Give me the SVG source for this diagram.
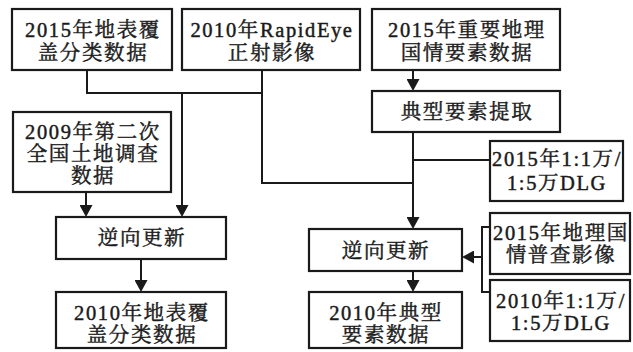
<svg xmlns="http://www.w3.org/2000/svg" width="633" height="352" viewBox="0 0 633 352">
<style>
  .box rect { fill: #ffffff; stroke: #1a1a1a; stroke-width: 2.2; }
  .box text { font-family: "Liberation Serif", "Noto Serif CJK SC", "Noto Sans CJK SC", serif; font-size: 20.5px; fill: #1a1a1a; stroke: #1a1a1a; stroke-width: 0.45; text-anchor: middle; letter-spacing: 1.6px; }
  .conn path { fill: none; stroke: #1a1a1a; stroke-width: 2; }
</style>
<defs>
  <marker id="arr" markerUnits="userSpaceOnUse" markerWidth="13" markerHeight="13" refX="10" refY="6.5" orient="auto" viewBox="0 0 13 13">
    <path d="M0,0 L12,6.5 L0,13 z" fill="#1a1a1a"/>
  </marker>
</defs>
<rect x="0" y="0" width="633" height="352" fill="#ffffff"/>
<g id="connectors" class="conn">
  <path d="M87,70 V93 H262"/>
  <path d="M262,70 V183 H413"/>
  <path d="M182,93 V215" marker-end="url(#arr)"/>
  <path d="M86,192 V215" marker-end="url(#arr)"/>
  <path d="M141,259 V290" marker-end="url(#arr)"/>
  <path d="M413,70 V89" marker-end="url(#arr)"/>
  <path d="M413,132 V227" marker-end="url(#arr)"/>
  <path d="M490,160 H413"/>
  <path d="M490,227 H482 V292 H490"/>
  <path d="M482,257 H464" marker-end="url(#arr)"/>
  <path d="M413,271 V290" marker-end="url(#arr)"/>
</g>
<g id="n2015lc" class="box">
  <rect x="12" y="9" width="160" height="61"/>
  <text x="93" y="37">2015年地表覆</text>
  <text x="93" y="60">盖分类数据</text>
</g>
<g id="nrapideye" class="box">
  <rect x="182" y="9" width="178" height="61"/>
  <text x="272" y="37">2010年RapidEye</text>
  <text x="272" y="60">正射影像</text>
</g>
<g id="n2015geo" class="box">
  <rect x="372" y="9" width="188" height="61"/>
  <text x="467" y="37">2015年重要地理</text>
  <text x="467" y="60">国情要素数据</text>
</g>
<g id="nextract" class="box">
  <rect x="372" y="91" width="188" height="41"/>
  <text x="467" y="119">典型要素提取</text>
</g>
<g id="n2009" class="box">
  <rect x="13" y="112" width="158" height="80"/>
  <text x="93" y="139">2009年第二次</text>
  <text x="93" y="161">全国土地调查</text>
  <text x="93" y="183">数据</text>
</g>
<g id="ndlg2015" class="box">
  <rect x="490" y="141" width="133" height="60"/>
  <text x="557" y="166">2015年1:1万/</text>
  <text x="557" y="190">1:5万DLG</text>
</g>
<g id="nupdateL" class="box">
  <rect x="56" y="217" width="170" height="42"/>
  <text x="142" y="245">逆向更新</text>
</g>
<g id="nupdateR" class="box">
  <rect x="309" y="229" width="153" height="42"/>
  <text x="386" y="258">逆向更新</text>
</g>
<g id="nimg2015" class="box">
  <rect x="490" y="213" width="140" height="61"/>
  <text x="561" y="240">2015年地理国</text>
  <text x="561" y="262">情普查影像</text>
</g>
<g id="ndlg2010" class="box">
  <rect x="490" y="280" width="140" height="61"/>
  <text x="561" y="308">2010年1:1万/</text>
  <text x="561" y="330">1:5万DLG</text>
</g>
<g id="nlc2010" class="box">
  <rect x="56" y="292" width="170" height="56"/>
  <text x="142" y="320">2010年地表覆</text>
  <text x="142" y="342">盖分类数据</text>
</g>
<g id="ntyp2010" class="box">
  <rect x="309" y="292" width="153" height="56"/>
  <text x="386" y="320">2010年典型</text>
  <text x="386" y="342">要素数据</text>
</g>
</svg>
